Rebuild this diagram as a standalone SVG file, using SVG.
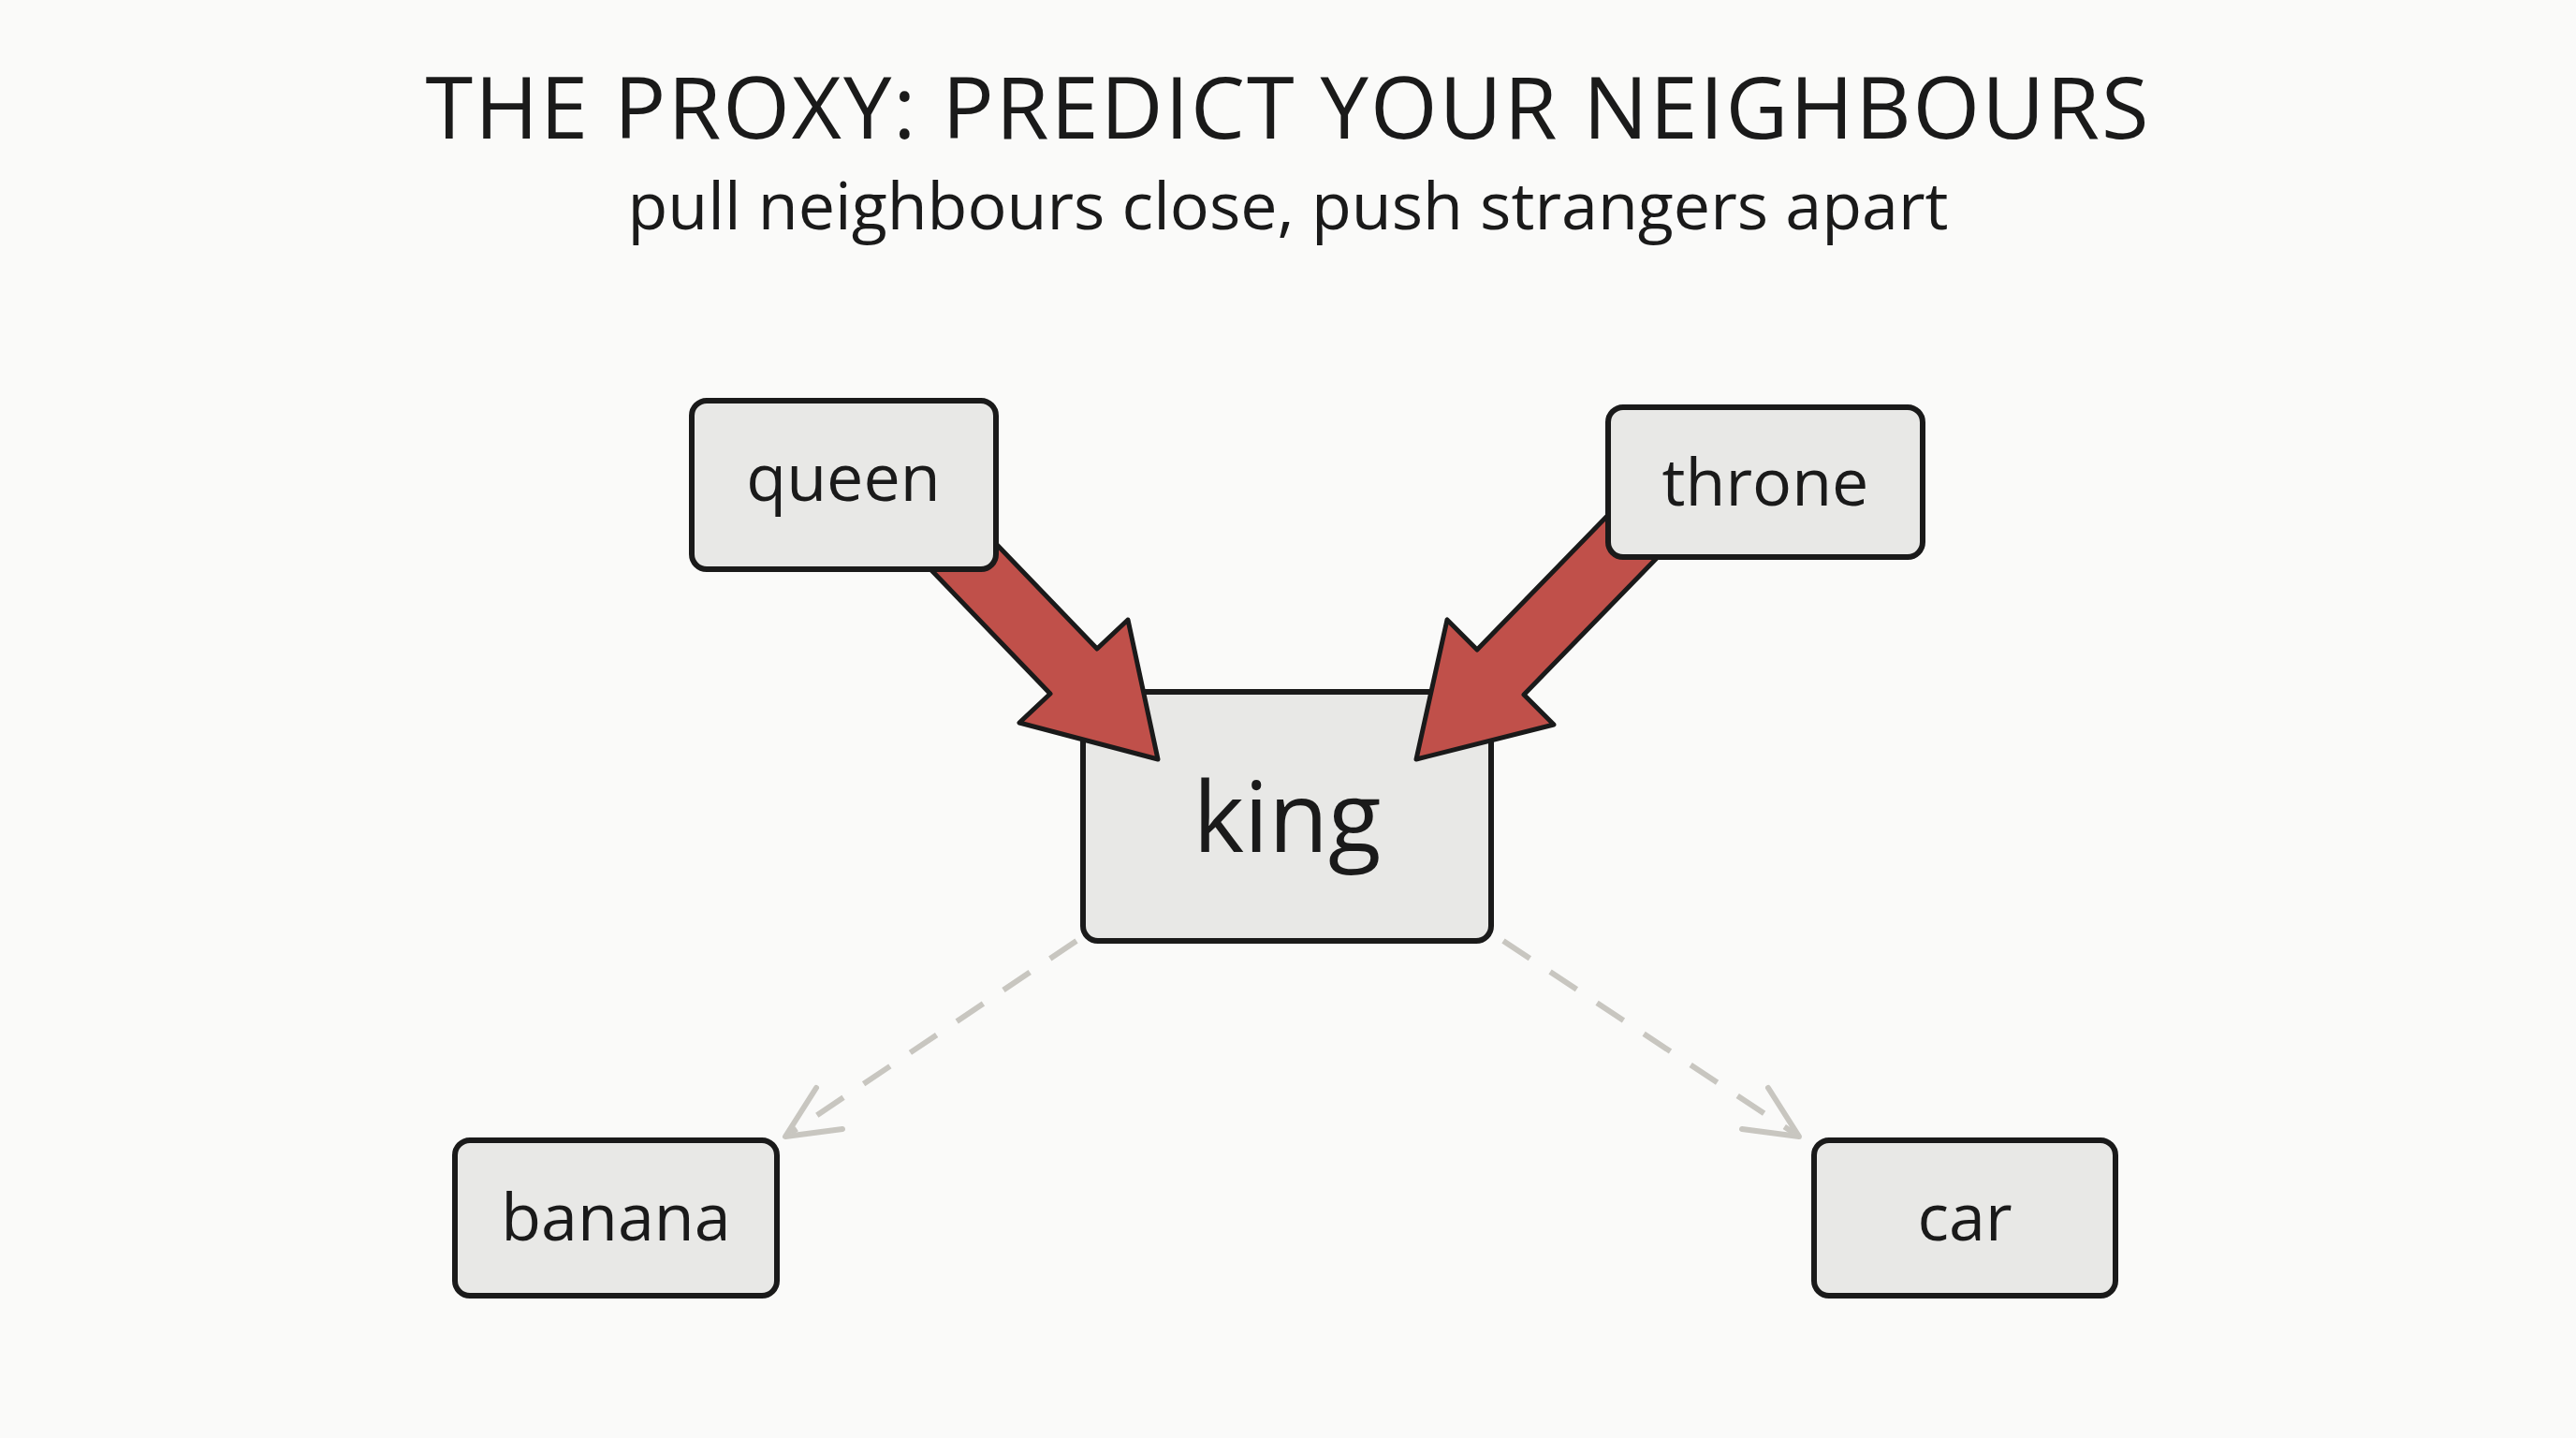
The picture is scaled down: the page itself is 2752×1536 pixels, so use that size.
<svg xmlns="http://www.w3.org/2000/svg" width="2752" height="1536" viewBox="0 0 2752 1536">
<style>
.box{fill:#e8e8e6;stroke:#1a1a1a;stroke-width:6}
.lbl{font-family:"Open Sans","Liberation Sans",sans-serif;fill:#1a1a1a;text-anchor:middle;font-weight:500}
.red{fill:#c0504a;stroke:#1a1a1a;stroke-width:5;stroke-linejoin:round}
.dash{stroke:#c8c6c0;stroke-width:6;stroke-dasharray:34 26;fill:none}
.head{stroke:#c8c6c0;stroke-width:6;fill:none;stroke-linecap:round;stroke-linejoin:round}
</style>
<rect width="2752" height="1536" fill="#fafaf9"/>
<text class="lbl" x="1376" y="148" font-size="92" letter-spacing="2">THE PROXY: PREDICT YOUR NEIGHBOURS</text>
<text class="lbl" x="1376" y="245" font-size="70">pull neighbours close, push strangers apart</text>
<g id="king"><rect class="box" x="1157" y="739" width="436" height="266" rx="16"/><text class="lbl" x="1375" y="910" font-size="104">king</text></g>
<g id="connectors">
<polygon class="red" points="995,609 1122,741 1089,772 1237,811 1205,662 1172,693 1045,561"/>
<polygon class="red" points="1722,546 1578,694 1546,662 1513,811 1660,774 1628,742 1772,594"/>
<line class="dash" x1="1150" y1="1005" x2="845" y2="1210"/>
<polyline class="head" points="872,1162 839,1214 900,1206"/>
<line class="dash" x1="1606" y1="1005" x2="1916" y2="1210"/>
<polyline class="head" points="1861,1206 1922,1214 1889,1162"/>
</g>
<g id="queen"><rect class="box" x="739" y="428" width="325" height="180" rx="16"/><text class="lbl" x="901" y="535" font-size="70">queen</text></g>
<g id="throne"><rect class="box" x="1718" y="435" width="336" height="160" rx="16"/><text class="lbl" x="1886" y="540" font-size="70">throne</text></g>
<g id="banana"><rect class="box" x="486" y="1218" width="344" height="166" rx="16"/><text class="lbl" x="658" y="1325" font-size="70">banana</text></g>
<g id="car"><rect class="box" x="1938" y="1218" width="322" height="166" rx="16"/><text class="lbl" x="2099" y="1325" font-size="70">car</text></g>
</svg>
